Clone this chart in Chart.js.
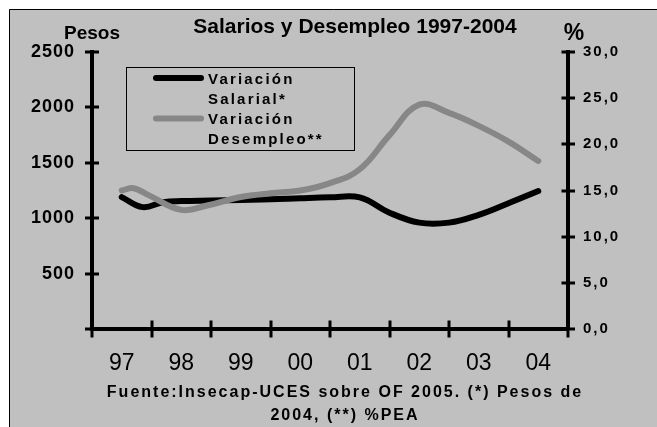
<!DOCTYPE html>
<html><head><meta charset="utf-8">
<script src="https://cdn.jsdelivr.net/npm/chart.js@4/dist/chart.umd.min.js"></script>
<style>html,body{margin:0;padding:0;background:#fff;overflow:hidden}canvas{display:block}</style>
</head><body>
<canvas id="c" width="657" height="427"></canvas>
<script>
const chartTitle = 'Salarios y Desempleo 1997-2004';
const leftAxisTitle = 'Pesos';
const rightAxisTitle = '%';
const captionLines = ['Fuente:Insecap-UCES sobre OF 2005. (*) Pesos de', '2004, (**) %PEA'];
const yearValues = [1997, 1998, 1999, 2000, 2001, 2002, 2003, 2004];
const yearLabels = ['97', '98', '99', '00', '01', '02', '03', '04'];
const leftTickValues = [0, 500, 1000, 1500, 2000, 2500];
const leftTickLabels = ['', '500', '1000', '1500', '2000', '2500'];
const rightTickValues = [0, 5, 10, 15, 20, 25, 30];
const rightTickLabels = ['0,0', '5,0', '10,0', '15,0', '20,0', '25,0', '30,0'];
const salaryLegend = ['Variación', 'Salarial*'];
const unempLegend = ['Variación', 'Desempleo**'];

// Variación Salarial (Pesos de 2004)
const salaryX =     [1997.0, 1997.35, 1997.7, 1998.0, 1998.5, 1999.0, 1999.5, 2000.0, 2000.5, 2001.0, 2001.5, 2002.0, 2002.5, 2003.0, 2003.5, 2004.0];
const salaryPesos = [1190,   1100,    1145,   1155,   1160,   1165,   1170,   1180,   1188,   1188,   1050,   960,    960,    1030,   1135,   1245];
// Variación Desempleo (% PEA)
const unempX =   [1997.0, 1997.2, 1997.45, 1998.0, 1998.45, 1999.0, 1999.5, 2000.0, 2000.5, 2001.0, 2001.5, 2002.0, 2002.5, 2003.0, 2003.5, 2004.0];
const unempPct = [15.0,   15.25,  14.5,    12.9,   13.4,    14.3,   14.7,   15.0,   15.8,   17.3,   21.0,   24.3,   23.4,   22.0,   20.3,   18.2];

const FONT = '"Liberation Sans", Arial, sans-serif';
const BLACK = '#000000';
const GREY = '#878787';
const BG = '#c0c0c0';

const spacingByScale = { y: '1px', y1: '2px' };

const deco = {
  id: 'deco',
  afterLayout(chart) {
    Object.keys(spacingByScale).forEach(id => {
      const s = chart.scales[id];
      if (!s || s._lsPatched) return;
      const orig = s.drawLabels.bind(s);
      s.drawLabels = function (area) {
        const ctx = chart.ctx;
        ctx.save();
        ctx.letterSpacing = spacingByScale[id];
        orig(area);
        ctx.restore();
      };
      s._lsPatched = true;
    });
  },
  beforeDraw(chart) {
    const ctx = chart.ctx;
    ctx.save();
    ctx.fillStyle = '#ffffff';
    ctx.fillRect(0, 0, chart.width, chart.height);
    ctx.fillStyle = BG;
    ctx.fillRect(9, 9, chart.width - 9, chart.height - 9);
    ctx.strokeStyle = '#000';
    ctx.lineWidth = 1;
    ctx.beginPath();
    ctx.moveTo(9.5, chart.height);
    ctx.lineTo(9.5, 9.5);
    ctx.lineTo(chart.width, 9.5);
    ctx.stroke();
    ctx.restore();
  },
  afterDraw(chart) {
    const ctx = chart.ctx;
    const {x, y, y1} = chart.scales;
    ctx.save();
    // crossing tick marks
    ctx.strokeStyle = BLACK;
    ctx.lineWidth = 3;
    ctx.lineCap = 'butt';
    const bounds = yearValues.map(v => v - 0.5).concat([yearValues[yearValues.length - 1] + 0.5]);
    const axisY = y.bottom;
    bounds.forEach(v => {
      const px = Math.round(x.getPixelForValue(v));
      ctx.beginPath(); ctx.moveTo(px, axisY - 8.5); ctx.lineTo(px, axisY + 8.5); ctx.stroke();
    });
    const lx = y.right;
    leftTickValues.forEach(v => {
      const py = Math.round(y.getPixelForValue(v));
      ctx.beginPath(); ctx.moveTo(lx - 7, py); ctx.lineTo(lx + 7, py); ctx.stroke();
    });
    const rx = y1.left;
    rightTickValues.forEach(v => {
      const py = Math.round(y1.getPixelForValue(v));
      ctx.beginPath(); ctx.moveTo(rx - 6.5, py); ctx.lineTo(rx + 7, py); ctx.stroke();
    });

    ctx.fillStyle = BLACK;
    ctx.textBaseline = 'alphabetic';
    // title
    ctx.textAlign = 'center';
    ctx.font = 'bold 21px ' + FONT;
    ctx.fillText(chartTitle, 355, 33);
    // axis titles
    ctx.font = 'bold 19px ' + FONT;
    ctx.fillText(leftAxisTitle, lx, 39);
    ctx.font = 'bold 23px ' + FONT;
    ctx.fillText(rightAxisTitle, rx + 6, 40);

    // legend
    ctx.lineWidth = 1;
    ctx.strokeRect(126.5, 67.5, 228, 83);
    ctx.lineCap = 'round';
    ctx.lineWidth = 6;
    ctx.strokeStyle = BLACK;
    ctx.beginPath(); ctx.moveTo(156, 78); ctx.lineTo(201, 78); ctx.stroke();
    ctx.strokeStyle = GREY;
    ctx.beginPath(); ctx.moveTo(156, 118.5); ctx.lineTo(201, 118.5); ctx.stroke();
    ctx.font = 'bold 15px ' + FONT;
    ctx.letterSpacing = '2.2px';
    ctx.textAlign = 'left';
    const legendLines = salaryLegend.concat(unempLegend);
    legendLines.forEach((t, i) => ctx.fillText(t, 208, 84 + 20 * i));

    // caption
    ctx.font = 'bold 16px ' + FONT;
    ctx.letterSpacing = '2px';
    ctx.textAlign = 'center';
    captionLines.forEach((t, i) => ctx.fillText(t, 345, 397 + 23 * i));
    ctx.restore();
  }
};

new Chart(document.getElementById('c'), {
  type: 'line',
  data: {
    datasets: [
      {
        label: salaryLegend.join(' '),
        data: salaryX.map((v, i) => ({x: v, y: salaryPesos[i]})),
        yAxisID: 'y',
        borderColor: BLACK,
        borderWidth: 6,
        pointRadius: 0,
        tension: 0.4,
        borderCapStyle: 'round',
        borderJoinStyle: 'round',
        order: 1
      },
      {
        label: unempLegend.join(' '),
        data: unempX.map((v, i) => ({x: v, y: unempPct[i]})),
        yAxisID: 'y1',
        borderColor: GREY,
        borderWidth: 6,
        pointRadius: 0,
        tension: 0.4,
        borderCapStyle: 'round',
        borderJoinStyle: 'round',
        order: 0
      }
    ]
  },
  options: {
    responsive: false,
    animation: false,
    devicePixelRatio: 1,
    layout: { padding: { top: 52, left: 0, right: 0, bottom: 0 } },
    plugins: { legend: { display: false }, title: { display: false }, tooltip: { enabled: false } },
    scales: {
      x: {
        type: 'linear',
        position: 'bottom',
        min: yearValues[0] - 0.5,
        max: yearValues[yearValues.length - 1] + 0.5,
        afterBuildTicks: s => { s.ticks = yearValues.map(v => ({value: v})); },
        afterFit: s => { s.height = 98; },
        grid: { display: false, drawTicks: false },
        border: { display: true, color: BLACK, width: 4 },
        ticks: {
          autoSkip: false, maxRotation: 0,
          callback: (v, i) => yearLabels[i],
          color: BLACK,
          font: { family: FONT, size: 23, weight: 'normal' },
          padding: 21
        }
      },
      y: {
        type: 'linear',
        position: 'left',
        min: 0, max: 2500,
        afterBuildTicks: s => { s.ticks = leftTickValues.map(v => ({value: v})); },
        afterFit: s => { s.width = 92; },
        grid: { display: false, drawTicks: false },
        border: { display: true, color: BLACK, width: 4 },
        ticks: {
          callback: (v, i) => leftTickLabels[i],
          color: BLACK,
          font: { family: FONT, size: 18, weight: 'bold' },
          padding: 17
        }
      },
      y1: {
        type: 'linear',
        position: 'right',
        min: 0, max: 30,
        afterBuildTicks: s => { s.ticks = rightTickValues.map(v => ({value: v})); },
        afterFit: s => { s.width = 89; },
        grid: { display: false, drawTicks: false },
        border: { display: true, color: BLACK, width: 4 },
        ticks: {
          callback: (v, i) => rightTickLabels[i],
          color: BLACK,
          font: { family: FONT, size: 15, weight: 'bold' },
          padding: 15
        }
      }
    }
  },
  plugins: [deco]
});
</script>
</body></html>
